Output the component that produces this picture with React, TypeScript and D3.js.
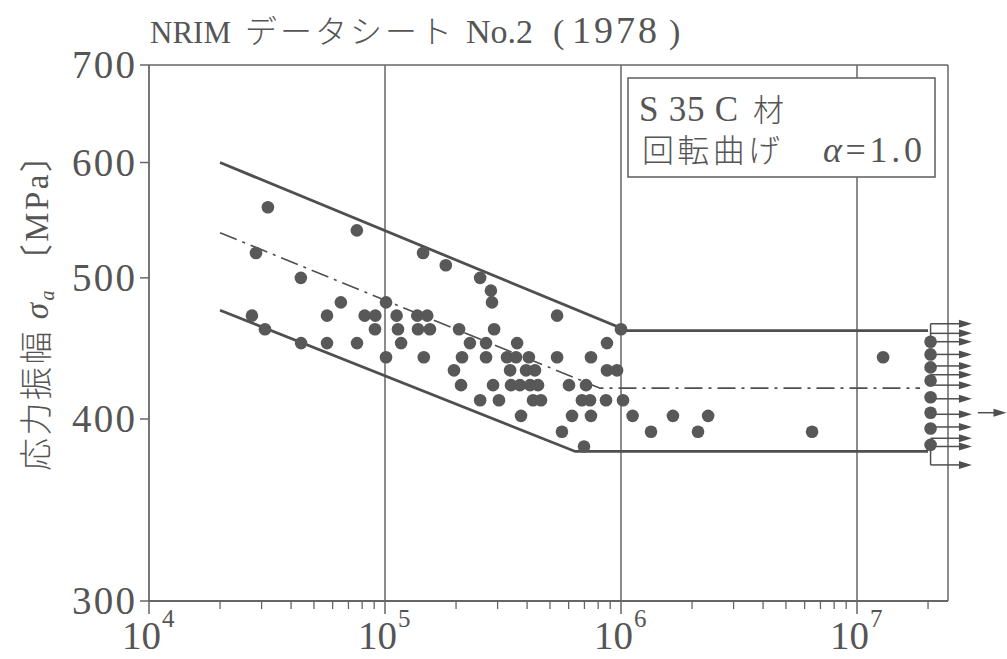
import React from "react";
import * as d3 from "d3";

const W = 1007;
const H = 659;

const titleLatin1 = "NRIM";
const titleCJK = "データシート";
const titleLatin2 = "No.2";
const titleYear = "1978";
const legendRow1Latin = "S 35 C";
const legendMat = "材";
const legendRow2CJK = "回転曲げ";
const legendAlpha = "α";
const legendAlphaValue = "=1.0";
const yLabelMain = "応力振幅 ";
const yLabelSym = "σ";
const yLabelSub = "a";
const yLabelUnit = " 〔MPa〕";

const yTicks = [300, 400, 500, 600, 700];
const xDecadeExponents = [4, 5, 6, 7];
const xExtraTicks = [2e7];

// failure points: [cycles, stress MPa]
const failures: [number, number][] = [
  [3.19e4, 559], [7.6e4, 539], [2.84e4, 520], [4.4e4, 500], [1.45e5, 520],
  [1.81e5, 510], [2.53e5, 500], [2.81e5, 490], [6.5e4, 481], [1.01e5, 481],
  [2.84e5, 481], [5.36e5, 471], [2.73e4, 471], [5.68e4, 471], [8.2e4, 471],
  [9.1e4, 471], [1.12e5, 471], [1.37e5, 471], [1.51e5, 471], [3.1e4, 461],
  [9.07e4, 461], [1.135e5, 461], [1.38e5, 461], [1.55e5, 461], [2.06e5, 461],
  [2.9e5, 461], [1.0e6, 461], [4.41e4, 451], [5.68e4, 451], [7.61e4, 451],
  [1.17e5, 451], [2.29e5, 451], [2.68e5, 451], [3.63e5, 451], [8.72e5, 451],
  [1.01e5, 441], [1.46e5, 441], [2.12e5, 441], [2.68e5, 441], [3.29e5, 441],
  [3.59e5, 441], [4.07e5, 441], [5.36e5, 441], [7.46e5, 441], [1.29e7, 441],
  [1.96e5, 432], [3.39e5, 432], [3.96e5, 432], [4.32e5, 432], [8.72e5, 432],
  [9.62e5, 432], [2.1e5, 422], [2.87e5, 422], [3.42e5, 422], [3.73e5, 422],
  [4.12e5, 422], [4.45e5, 422], [6.02e5, 422], [7.11e5, 422], [2.53e5, 412],
  [3.04e5, 412], [4.24e5, 412], [4.58e5, 412], [6.83e5, 412], [7.39e5, 412],
  [8.64e5, 412], [1.02e6, 412], [3.77e5, 402], [6.2e5, 402], [7.46e5, 402],
  [1.12e6, 402], [1.66e6, 402], [2.34e6, 402], [5.62e5, 392], [1.34e6, 392],
  [2.12e6, 392], [6.45e6, 392], [6.97e5, 383],
];

// run-outs
const runoutCycles = 2.05e7;
const runoutDots = [452, 443, 434, 425, 414, 404, 394, 384];
const runoutArrows = [465, 458, 452, 443, 435, 429, 422, 413, 403, 395, 388, 383, 372];
const runoutArrowEnd = 3.07e7;
const extraArrow: [number, number, number] = [3.25e7, 4.3e7, 404];

// band lines [cycles, stress]
const upperBand: [number, number][] = [[2e4, 600], [1.06e6, 460], [2e7, 460]];
const meanLine: [number, number][] = [[2e4, 537], [8.15e5, 420], [1.85e7, 420]];
const lowerBand: [number, number][] = [[2e4, 475], [6.4e5, 380], [2e7, 380]];

const INK = "#4f4f4f";
const GRID = "#666";
const TEXT = "#555";
const SERIF = "'Liberation Serif', 'Noto Sans CJK JP', serif";
const CJK = "'Noto Sans CJK JP', sans-serif";

export default function App() {
  const x = d3.scaleLog().domain([1e4, 2.43e7]).range([149, 948]);
  const y = d3.scaleLog().domain([300, 700]).range([601, 65]);
  const line = d3
    .line<[number, number]>()
    .x((d) => x(d[0]))
    .y((d) => y(d[1]));

  const minorTicks: number[] = [];
  xDecadeExponents.slice(0, 3).forEach((e) => {
    for (let k = 2; k <= 9; k++) minorTicks.push(k * Math.pow(10, e));
  });
  xExtraTicks.forEach((t) => minorTicks.push(t));

  const [x0, x1] = x.range();
  const [yb, yt] = y.range();
  const rx = x(runoutCycles);
  const arrowTip = x(runoutArrowEnd);

  const arrowHead = (tx: number, ty: number, len = 13, hw = 4) =>
    `M${tx},${ty} L${tx - len},${ty - hw} L${tx - len},${ty + hw} Z`;

  const topArrow = runoutArrows[0];
  const bottomArrow = runoutArrows[runoutArrows.length - 1];

  return (
    <div style={{ position: "absolute", left: 0, top: 0 }}>
      <svg width={W} height={H} style={{ display: "block", background: "#fff" }}>
        {/* title */}
        <text y={43} fontFamily={SERIF} fill={TEXT}>
          <tspan x={150} fontSize={31}>
            {titleLatin1}
          </tspan>
          <tspan x={245} fontFamily={CJK} fontWeight={300} fontSize={32} letterSpacing={3}>
            {titleCJK}
          </tspan>
          <tspan x={466} fontSize={34}>
            {titleLatin2}
          </tspan>
          <tspan x={553} fontSize={34}>
            (
          </tspan>
          <tspan x={572} fontSize={38} letterSpacing={3}>
            {titleYear}
          </tspan>
          <tspan x={669} fontSize={34}>
            )
          </tspan>
        </text>

        {/* vertical grid lines */}
        {xDecadeExponents.slice(1).map((e) => (
          <line
            key={e}
            x1={x(Math.pow(10, e))}
            x2={x(Math.pow(10, e))}
            y1={yt}
            y2={yb}
            stroke={GRID}
            strokeWidth={1.5}
          />
        ))}

        {/* frame */}
        <line x1={x0} x2={x1} y1={yt} y2={yt} stroke={GRID} strokeWidth={1.5} />
        <line x1={x1} x2={x1} y1={yt} y2={yb} stroke={GRID} strokeWidth={1.5} />
        <line x1={x0} x2={x0} y1={yt} y2={yb} stroke={GRID} strokeWidth={1.8} />
        <line x1={x0} x2={x1} y1={yb} y2={yb} stroke={GRID} strokeWidth={2} />

        {/* y ticks */}
        {yTicks.map((t) => (
          <g key={t}>
            <line x1={x0 - 9} x2={x0} y1={y(t)} y2={y(t)} stroke={GRID} strokeWidth={1.5} />
            <text
              x={72}
              y={y(t)}
              dy="0.34em"
              fontFamily={SERIF}
              fontSize={39}
              fill={TEXT}
              textLength={63}
              lengthAdjust="spacing"
            >
              {t}
            </text>
          </g>
        ))}

        {/* x ticks */}
        {xDecadeExponents.map((e) => (
          <g key={e}>
            <line
              x1={x(Math.pow(10, e))}
              x2={x(Math.pow(10, e))}
              y1={yb}
              y2={yb + 13}
              stroke={GRID}
              strokeWidth={1.5}
            />
            <text x={x(Math.pow(10, e)) - 27} y={649} fontFamily={SERIF} fill={TEXT}>
              <tspan fontSize={39}>10</tspan>
              <tspan fontSize={25} dy={-22} dx={1}>
                {e}
              </tspan>
            </text>
          </g>
        ))}
        {minorTicks.map((t) => (
          <line
            key={t}
            x1={x(t)}
            x2={x(t)}
            y1={yb}
            y2={yb + 8}
            stroke={GRID}
            strokeWidth={1.3}
          />
        ))}

        {/* y axis label */}
        <text
          transform="translate(48,305) rotate(-90)"
          textAnchor="middle"
          fontFamily={SERIF}
          fontSize={33}
          fill={TEXT}
          textLength={332}
          lengthAdjust="spacing"
        >
          <tspan fontFamily={CJK} fontWeight={300}>
            {yLabelMain}
          </tspan>
          <tspan fontStyle="italic">{yLabelSym}</tspan>
          <tspan fontStyle="italic" fontSize={20} dy={6}>
            {yLabelSub}
          </tspan>
          <tspan dy={-6}>{yLabelUnit}</tspan>
        </text>

        {/* band lines */}
        <path d={line(upperBand) || ""} fill="none" stroke={INK} strokeWidth={2.8} />
        <path d={line(lowerBand) || ""} fill="none" stroke={INK} strokeWidth={2.8} />
        <path
          d={line(meanLine) || ""}
          fill="none"
          stroke={INK}
          strokeWidth={1.6}
          strokeDasharray="18 6 3 6"
        />

        {/* failures */}
        {failures.map((d, i) => (
          <circle key={i} cx={x(d[0])} cy={y(d[1])} r={6.3} fill="#585858" />
        ))}

        {/* run-out brackets */}
        <line
          x1={rx}
          x2={rx}
          y1={y(runoutDots[0])}
          y2={y(topArrow)}
          stroke={INK}
          strokeWidth={1.5}
        />
        <line
          x1={rx}
          x2={rx}
          y1={y(runoutDots[runoutDots.length - 1])}
          y2={y(bottomArrow)}
          stroke={INK}
          strokeWidth={1.5}
        />
        {runoutArrows.map((s, i) => (
          <g key={i}>
            <line
              x1={rx}
              x2={arrowTip - 10}
              y1={y(s)}
              y2={y(s)}
              stroke={INK}
              strokeWidth={1.5}
            />
            <path d={arrowHead(arrowTip, y(s))} fill={INK} />
          </g>
        ))}
        {runoutDots.map((s, i) => (
          <circle key={i} cx={rx} cy={y(s)} r={6.3} fill="#585858" />
        ))}
        <line
          x1={x(extraArrow[0])}
          x2={x(extraArrow[1]) - 10}
          y1={y(extraArrow[2])}
          y2={y(extraArrow[2])}
          stroke={INK}
          strokeWidth={1.5}
        />
        <path d={arrowHead(x(extraArrow[1]), y(extraArrow[2]))} fill={INK} />

        {/* legend box */}
        <rect x={628} y={78} width={307} height={99} fill="#fff" stroke={GRID} strokeWidth={1.6} />
        <text
          x={639}
          y={121}
          fontFamily={SERIF}
          fontSize={35}
          fill={TEXT}
          textLength={99}
          lengthAdjust="spacing"
        >
          {legendRow1Latin}
        </text>
        <text x={753} y={121} fontFamily={CJK} fontWeight={300} fontSize={31} fill={TEXT}>
          {legendMat}
        </text>
        <text
          x={642}
          y={162}
          fontFamily={CJK}
          fontWeight={300}
          fontSize={32}
          fill={TEXT}
          textLength={138}
          lengthAdjust="spacing"
        >
          {legendRow2CJK}
        </text>
        <text
          x={823}
          y={162}
          fontFamily={SERIF}
          fontSize={36}
          fill={TEXT}
          textLength={99}
          lengthAdjust="spacing"
        >
          <tspan fontStyle="italic">{legendAlpha}</tspan>
          {legendAlphaValue}
        </text>
      </svg>
    </div>
  );
}
